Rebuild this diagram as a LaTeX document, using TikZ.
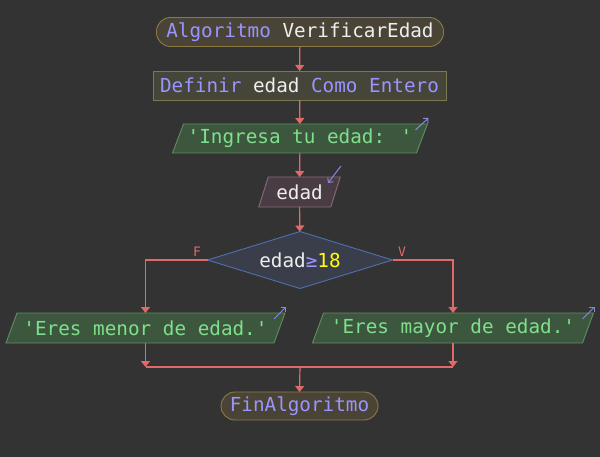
\documentclass[tikz,border=0pt]{standalone}
\usepackage{fontspec}
\usetikzlibrary{arrows.meta,backgrounds,calc}
\newfontfamily\codefont{DejaVu Sans Mono}

\definecolor{bgcol}{HTML}{333333}
\definecolor{flowcol}{HTML}{E06A6A}
\definecolor{kwcol}{HTML}{9A94FF}
\definecolor{idcol}{HTML}{EEEEEE}
\definecolor{strcol}{HTML}{7EE08A}
\definecolor{numcol}{HTML}{FFFF00}
\definecolor{termfill}{HTML}{4A4436}
\definecolor{termdraw}{HTML}{8C7A45}
\definecolor{deffill}{HTML}{45453A}
\definecolor{defdraw}{HTML}{7A7A50}
\definecolor{outfill}{HTML}{3D573F}
\definecolor{outdraw}{HTML}{5F8F60}
\definecolor{infill}{HTML}{4A3C44}
\definecolor{indraw}{HTML}{8A6A78}
\definecolor{decfill}{HTML}{3A3E4A}
\definecolor{decdraw}{HTML}{5070B0}
\definecolor{iocol}{HTML}{8A86E0}

\pgfdeclarelayer{canvas}
\pgfsetlayers{canvas,background,main}

\tikzset{
  base/.style={inner sep=0pt, outer sep=0pt, font=\codefont\fontsize{19.3}{22}\selectfont, text=idcol},
  terminal/.style={base, draw=termdraw, fill=termfill, line width=0.9pt, rounded corners=14pt},
  defbox/.style={base, draw=defdraw, fill=deffill, line width=0.9pt},
  frame/.style={base},
  flow/.style={draw=flowcol, line width=1.2pt, -{Triangle[length=6pt,width=9pt]}},
  flowline/.style={draw=flowcol, line width=1.2pt},
  iomark/.style={draw=iocol, line width=1pt, -{Straight Barb[length=3.5pt,width=7pt]}},
  branch/.style={text=flowcol, font=\codefont\fontsize{13}{15}\selectfont},
}
% parallelogram behind node #1, slant #2, fill #3, border #4
\newcommand\iobox[4]{%
  \begin{pgfonlayer}{background}
    \path[fill=#3, draw=#4, line width=0.9pt]
      ([xshift=-#2]#1.south west) -- ([xshift=-#2]#1.south east) --
      ([xshift=#2]#1.north east) -- ([xshift=#2]#1.north west) -- cycle;
  \end{pgfonlayer}}

\begin{document}
\begin{tikzpicture}[x=1pt, y=-1pt]
  \begin{pgfonlayer}{canvas}
    \fill[bgcol] (0,0) rectangle (600,457);
  \end{pgfonlayer}
  \useasboundingbox (0,0) rectangle (600,457);

  \node[terminal, minimum width=287pt, minimum height=29pt] (start) at (300,32)
    {\textcolor{kwcol}{Algoritmo} VerificarEdad};
  \node[defbox, minimum width=293pt, minimum height=29pt] (def) at (299.5,85.5)
    {\textcolor{kwcol}{Definir} edad \textcolor{kwcol}{Como Entero}};

  \node[frame, minimum width=244pt, minimum height=29pt, text=strcol] (ask) at (300,138.5)
    {'Ingresa tu edad: '};
  \iobox{ask}{5.5pt}{outfill}{outdraw}

  \node[frame, minimum width=72pt, minimum height=30pt] (read) at (299.5,192) {edad};
  \iobox{read}{4.75pt}{infill}{indraw}

  \node[frame, minimum width=185pt, minimum height=57pt] (cond) at (300,260)
    {edad\textcolor{kwcol}{≥}\textcolor{numcol}{18}};
  \begin{pgfonlayer}{background}
    \path[fill=decfill, draw=decdraw, line width=0.9pt]
      (cond.north) -- (cond.east) -- (cond.south) -- (cond.west) -- cycle;
  \end{pgfonlayer}

  \node[frame, minimum width=268pt, minimum height=30pt, text=strcol] (minor) at (145.5,328)
    {'Eres menor de edad.'};
  \iobox{minor}{5.5pt}{outfill}{outdraw}
  \node[frame, minimum width=270pt, minimum height=30pt, text=strcol] (major) at (453,328)
    {'Eres mayor de edad.'};
  \iobox{major}{5.5pt}{outfill}{outdraw}

  \node[terminal, minimum width=157pt, minimum height=28pt] (stop) at (299.5,406)
    {\textcolor{kwcol}{FinAlgoritmo}};

  % input / output direction marks
  \draw[iomark] ([xshift=-6.5pt,yshift=-6pt]ask.north east) -- ++(13,-12);
  \draw[iomark] ([xshift=-5.5pt,yshift=-6pt]minor.north east) -- ++(12,-12);
  \draw[iomark] ([xshift=-5.5pt,yshift=-6pt]major.north east) -- ++(12,-12);
  \draw[iomark] ([xshift=5.5pt,yshift=11pt]read.north east) -- ++(-13,17);

  % flow
  \draw[flow] (start) -- (def);
  \draw[flow] (def) -- (ask);
  \draw[flow] (ask) -- (read);
  \draw[flow] (read) -- (cond);
  \draw[flow] (cond.west) -| (minor.north);
  \draw[flow] (cond.east) -| (major.north);
  \node[branch] (flabel) at (197,252) {F};
  \node[branch] (vlabel) at (402,252) {V};

  \coordinate (join) at (300,367);
  \draw[flow] (minor.south) -- (minor.south |- join);
  \draw[flow] (major.south) -- (major.south |- join);
  \draw[flowline] (minor.south |- join) -- (major.south |- join);
  \draw[flow] (join) -- (stop.north);
\end{tikzpicture}
\end{document}
